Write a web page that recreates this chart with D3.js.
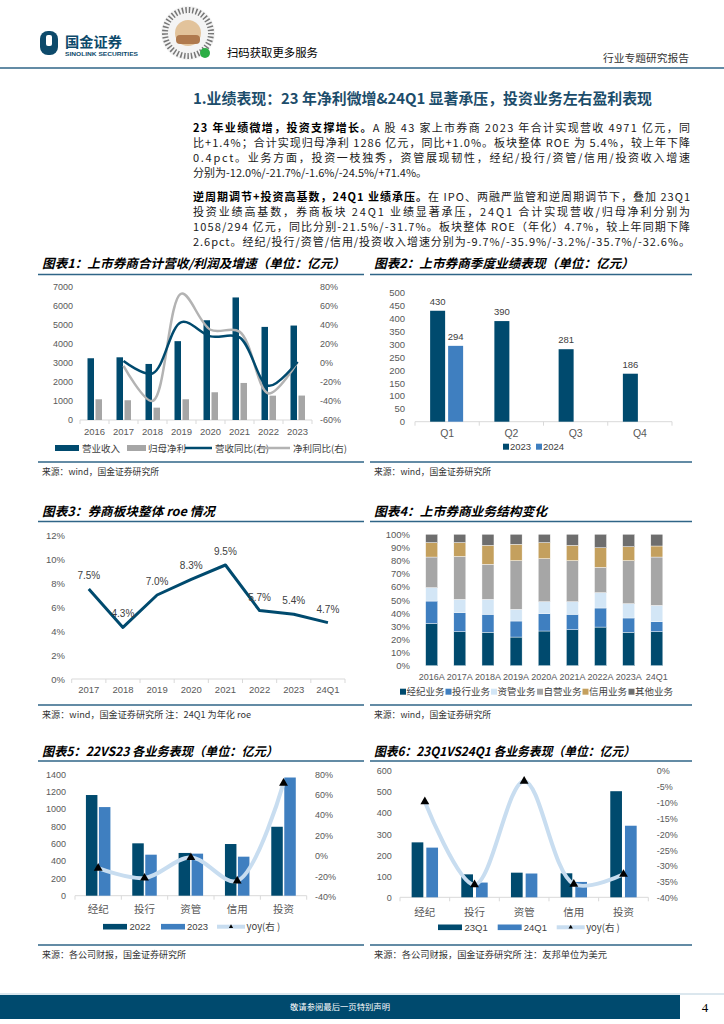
<!DOCTYPE html>
<html>
<head>
<meta charset="utf-8">
<script src="https://cdn.jsdelivr.net/npm/d3@7"></script>
<style>
body { margin: 0; background: #fff; }
</style>
</head>
<body>
<svg id="page" width="724" height="1024"></svg>
<script>
// ---- data ----
// chart 1: revenue / net profit and growth
const years1 = ["2016", "2017", "2018", "2019", "2020", "2021", "2022", "2023"];
const revenue1 = [3250, 3300, 2950, 4150, 5250, 6450, 4900, 4971];
const profit1 = [1090, 1040, 650, 1090, 1460, 1950, 1280, 1286];
const revYoy1 = [null, 2, -11, 43, 28, 27, -24, 1.4];
const profYoy1 = [null, -3, -40, 73, 35, 33, -32, 1.0];
const ticks1L = [0, 1000, 2000, 3000, 4000, 5000, 6000, 7000];
const ticks1R = [-60, -40, -20, 0, 20, 40, 60, 80];

// chart 2: quarterly net profit
const quarters2 = ["Q1", "Q2", "Q3", "Q4"];
const q2023 = [430, 390, 281, 186];
const q2024 = [294];
const ticks2 = [0, 50, 100, 150, 200, 250, 300, 350, 400, 450, 500];

// chart 3: ROE
const years3 = ["2017", "2018", "2019", "2020", "2021", "2022", "2023", "24Q1"];
const roe3 = [7.5, 4.3, 7.0, 8.3, 9.5, 5.7, 5.4, 4.7];
const ticks3 = [0, 2, 4, 6, 8, 10, 12];

// chart 4: revenue structure (%)
const years4 = ["2016A", "2017A", "2018A", "2019A", "2020A", "2021A", "2022A", "2023A", "24Q1"];
const seg4 = ["经纪业务", "投行业务", "资管业务", "自营业务", "信用业务", "其他业务"];
const brokerage4 = [32.2, 25.9, 25.4, 21.8, 26.4, 27.4, 29.4, 25.4, 25.9];
const ib4 = [17.0, 14.5, 13.7, 12.2, 13.2, 11.7, 14.5, 10.9, 7.6];
const am4 = [10.2, 10.1, 11.4, 8.9, 9.1, 9.6, 11.7, 10.9, 12.4];
const prop4 = [23.3, 32.7, 26.7, 37.1, 32.8, 31.3, 19.3, 32.8, 36.8];
const credit4 = [11.0, 10.5, 14.4, 12.4, 12.2, 11.6, 14.9, 10.6, 8.4];
const other4 = [6.3, 6.3, 8.4, 7.6, 6.3, 8.4, 10.2, 9.4, 8.9];
const ticks4 = [0, 10, 20, 30, 40, 50, 60, 70, 80, 90, 100];

// chart 5: 22 vs 23 by business
const biz = ["经纪", "投行", "资管", "信用", "投资"];
const v2022 = [1161, 604, 493, 596, 795];
const v2023 = [1022, 473, 485, 450, 1363];
const yoy5 = [-12.0, -21.7, -1.6, -24.5, 71.4];
const ticks5L = [0, 200, 400, 600, 800, 1000, 1200, 1400];
const ticks5R = [-40, -20, 0, 20, 40, 60, 80];

// chart 6: 23Q1 vs 24Q1 by business
const v23q1 = [261, 109, 117, 114, 504];
const v24q1 = [236, 70, 113, 73, 340];
const yoy6 = [-9.7, -35.9, -3.2, -35.7, -32.6];
const ticks6L = [0, 100, 200, 300, 400, 500, 600];
const ticks6R = [-40, -35, -30, -25, -20, -15, -10, -5, 0];

// ---- styles ----
const DARK = "#004a6e", BLUE = "#3f7fc0", GREY = "#a6a6a6", LIGHT = "#c8ddf0";
const PALE = "#d3e6f6", GOLD = "#c4a05e", DGREY = "#6e6e6e", AX = "#595959";
const RULE = "#2f6587";
const CJK = '"Noto Sans CJK SC", sans-serif';
const LAT = '"Liberation Sans", Arial, sans-serif';
const plain = d => String(d);
const pct = d => d + "%";

const svg = d3.select("#page");

function txt(x, y, s, o = {}) {
  const t = svg.append("text").attr("x", x).attr("y", y).text(s)
    .attr("font-size", o.size || 10)
    .attr("fill", o.fill || "#000")
    .attr("font-family", o.family || CJK);
  if (o.weight) t.attr("font-weight", o.weight);
  if (o.anchor) t.attr("text-anchor", o.anchor);
  if (o.italic) t.attr("font-style", "italic");
  if (o.len) t.attr("textLength", o.len).attr("lengthAdjust", "spacingAndGlyphs");
  return t;
}

function styleAxis(g, size, family) {
  g.select(".domain").remove();
  g.selectAll("text").attr("font-size", size || 9).attr("fill", AX)
    .attr("font-family", family || LAT);
}

function frame(x0, x1, yTitle, yRule, title, titleLen, yBottom, source, sourceLen) {
  txt(x0 + 4, yTitle, title, { size: 12.5, weight: "bold", italic: true, len: titleLen });
  svg.append("line").attr("x1", x0).attr("x2", x1).attr("y1", yRule).attr("y2", yRule)
    .attr("stroke", RULE).attr("stroke-width", 1.5);
  svg.append("line").attr("x1", x0).attr("x2", x1).attr("y1", yBottom).attr("y2", yBottom)
    .attr("stroke", RULE).attr("stroke-width", 1.5);
  txt(x0 + 4, yBottom + 13, source, { size: 9, fill: "#333", len: sourceLen });
}

function baseline(x, y, n) {
  const bw = (x.range()[1] - x.range()[0]) / n;
  svg.append("line").attr("x1", x.range()[0]).attr("x2", x.range()[1])
    .attr("y1", y).attr("y2", y).attr("stroke", "#d9d9d9");
  for (let i = 0; i <= n; i++) {
    svg.append("line").attr("x1", x.range()[0] + i * bw).attr("x2", x.range()[0] + i * bw)
      .attr("y1", y).attr("y2", y + 4).attr("stroke", "#d9d9d9");
  }
}

// ---- page header ----
svg.append("rect").attr("x", 40).attr("y", 31).attr("width", 18).attr("height", 24).attr("rx", 8).attr("fill", "#0d4a6b");
svg.append("rect").attr("x", 46).attr("y", 35).attr("width", 6).attr("height", 11).attr("rx", 2).attr("fill", "#fff");
txt(65, 47, "国金证券", { size: 14, weight: "bold", fill: "#0d4a6b", len: 57 });
txt(65, 56, "SINOLINK SECURITIES", { size: 5.5, weight: "bold", fill: "#0d4a6b", family: LAT, len: 73 });
svg.append("circle").attr("cx", 188).attr("cy", 33).attr("r", 27).attr("fill", "#f4f4f4");
svg.append("circle").attr("cx", 188).attr("cy", 33).attr("r", 23).attr("fill", "none")
  .attr("stroke", "#777").attr("stroke-width", 6).attr("stroke-dasharray", "1.5 2");
svg.append("circle").attr("cx", 188).attr("cy", 33).attr("r", 13).attr("fill", "#e2c39b");
svg.append("rect").attr("x", 176).attr("y", 35).attr("width", 24).attr("height", 9).attr("rx", 4).attr("fill", "#b07a4e");
svg.append("circle").attr("cx", 205).attr("cy", 53).attr("r", 5).attr("fill", "#2bae45");
txt(227, 57, "扫码获取更多服务", { size: 11.5, len: 91 });
txt(689, 62, "行业专题研究报告", { size: 10, fill: "#333", anchor: "end", len: 86 });
svg.append("line").attr("x1", 0).attr("x2", 724).attr("y1", 68).attr("y2", 68)
  .attr("stroke", RULE).attr("stroke-width", 1.5);

// ---- section title and text ----
txt(193, 104, "1.业绩表现：23 年净利微增&24Q1 显著承压，投资业务左右盈利表现",
  { size: 15, weight: "bold", fill: "#1c4d6b", len: 459 });

const paraLines = [
  { y: 132, b: "23 年业绩微增，投资支撑增长。", n: "A 股 43 家上市券商 2023 年合计实现营收 4971 亿元，同", j: true },
  { y: 147, b: "", n: "比+1.4%；合计实现归母净利 1286 亿元，同比+1.0%。板块整体 ROE 为 5.4%，较上年下降", j: true },
  { y: 162, b: "", n: "0.4pct。业务方面，投资一枝独秀，资管展现韧性，经纪/投行/资管/信用/投资收入增速", j: true },
  { y: 177, b: "", n: "分别为-12.0%/-21.7%/-1.6%/-24.5%/+71.4%。", j: false },
  { y: 201, b: "逆周期调节+投资高基数，24Q1 业绩承压。", n: "在 IPO、两融严监管和逆周期调节下，叠加 23Q1", j: true },
  { y: 216, b: "", n: "投资业绩高基数，券商板块 24Q1 业绩显著承压，24Q1 合计实现营收/归母净利分别为", j: true },
  { y: 231, b: "", n: "1058/294 亿元，同比分别-21.5%/-31.7%。板块整体 ROE（年化）4.7%，较上年同期下降", j: true },
  { y: 246, b: "", n: "2.6pct。经纪/投行/资管/信用/投资收入增速分别为-9.7%/-35.9%/-3.2%/-35.7%/-32.6%。", j: true }
];
paraLines.forEach(l => {
  const t = svg.append("text").attr("x", 193).attr("y", l.y)
    .attr("font-size", 11).attr("font-family", CJK).attr("fill", "#1a1a1a");
  if (l.b) t.append("tspan").attr("font-weight", "bold").attr("fill", "#000").text(l.b);
  t.append("tspan").text(l.n);
  if (l.j) t.attr("textLength", 497).attr("lengthAdjust", "spacing");
});

// ---- chart 1 ----
frame(38, 364, 268, 274.5, "图表1：上市券商合计营收/利润及增速（单位：亿元）", 303,
  462, "来源：wind，国金证券研究所", 117);
{
  const x = d3.scaleBand().domain(years1).range([80, 312]);
  const y = d3.scaleLinear().domain([0, 7000]).range([420, 287]);
  const yr = d3.scaleLinear().domain([-60, 80]).range([420, 287]);
  const bw = x.bandwidth();
  svg.append("g").attr("transform", "translate(80,0)")
    .call(d3.axisLeft(y).tickValues(ticks1L).tickSize(0).tickPadding(7).tickFormat(plain)).call(styleAxis, 9);
  svg.append("g").attr("transform", "translate(312,0)")
    .call(d3.axisRight(yr).tickValues(ticks1R).tickSize(0).tickPadding(8).tickFormat(pct)).call(styleAxis, 9);
  baseline(x, 420, years1.length);
  svg.append("g").attr("transform", "translate(0,420)")
    .call(d3.axisBottom(x).tickSize(0).tickPadding(8.5)).call(styleAxis, 9.5);
  svg.append("g").selectAll("rect").data(revenue1).join("rect")
    .attr("x", (d, i) => x(years1[i]) + bw / 2 - 7).attr("width", 6.5)
    .attr("y", d => y(d)).attr("height", d => y(0) - y(d)).attr("fill", DARK);
  svg.append("g").selectAll("rect").data(profit1).join("rect")
    .attr("x", (d, i) => x(years1[i]) + bw / 2 + 1).attr("width", 6.5)
    .attr("y", d => y(d)).attr("height", d => y(0) - y(d)).attr("fill", GREY);
  const line = d3.line().defined(d => d[1] != null)
    .x(d => x(d[0]) + bw / 2).y(d => yr(d[1])).curve(d3.curveCatmullRom);
  svg.append("path").attr("d", line(years1.map((c, i) => [c, profYoy1[i]])))
    .attr("fill", "none").attr("stroke", "#b3b3b3").attr("stroke-width", 2.5);
  svg.append("path").attr("d", line(years1.map((c, i) => [c, revYoy1[i]])))
    .attr("fill", "none").attr("stroke", DARK).attr("stroke-width", 2.5);
  // legend
  const ly = 448;
  svg.append("rect").attr("x", 55).attr("y", ly - 3).attr("width", 24).attr("height", 6).attr("fill", DARK);
  txt(82, ly + 3.5, "营业收入", { size: 9.5, fill: "#404040" });
  svg.append("rect").attr("x", 127).attr("y", ly - 3).attr("width", 19).attr("height", 6).attr("fill", GREY);
  txt(148, ly + 3.5, "归母净利", { size: 9.5, fill: "#404040" });
  svg.append("line").attr("x1", 185).attr("x2", 212).attr("y1", ly).attr("y2", ly).attr("stroke", DARK).attr("stroke-width", 2.5);
  txt(215, ly + 3.5, "营收同比(右)", { size: 9.5, fill: "#404040" });
  svg.append("line").attr("x1", 260).attr("x2", 290).attr("y1", ly).attr("y2", ly).attr("stroke", "#b3b3b3").attr("stroke-width", 2.5);
  txt(293, ly + 3.5, "净利同比(右)", { size: 9.5, fill: "#404040" });
}

// ---- chart 2 ----
frame(370, 692, 268, 274.5, "图表2：上市券商季度业绩表现（单位：亿元）", 260,
  462, "来源：wind，国金证券研究所", 117);
{
  const x = d3.scaleBand().domain(quarters2).range([415, 672]);
  const y = d3.scaleLinear().domain([0, 500]).range([421.7, 292.7]);
  const c = d => x(d) + x.bandwidth() / 2;
  svg.append("g").attr("transform", "translate(415,0)")
    .call(d3.axisLeft(y).tickValues(ticks2).tickSize(0).tickPadding(10).tickFormat(plain)).call(styleAxis, 9.5);
  baseline(x, 421.7, quarters2.length);
  svg.append("g").attr("transform", "translate(0,421.7)")
    .call(d3.axisBottom(x).tickSize(0).tickPadding(7.5)).call(styleAxis, 10.5);
  svg.append("g").selectAll("rect").data(q2023).join("rect")
    .attr("x", (d, i) => c(quarters2[i]) - 17).attr("width", 15)
    .attr("y", d => y(d)).attr("height", d => y(0) - y(d)).attr("fill", DARK);
  svg.append("g").selectAll("rect").data(q2024).join("rect")
    .attr("x", (d, i) => c(quarters2[i]) + 1).attr("width", 15)
    .attr("y", d => y(d)).attr("height", d => y(0) - y(d)).attr("fill", BLUE);
  q2023.forEach((d, i) => txt(c(quarters2[i]) - 9.5, y(d) - 6, d, { size: 9.5, fill: "#404040", family: LAT, anchor: "middle" }));
  q2024.forEach((d, i) => txt(c(quarters2[i]) + 8.5, y(d) - 6, d, { size: 9.5, fill: "#404040", family: LAT, anchor: "middle" }));
  const ly = 446.7;
  svg.append("rect").attr("x", 503).attr("y", ly - 3).attr("width", 6).attr("height", 6).attr("fill", DARK);
  txt(510, ly + 3.5, "2023", { size: 9.5, fill: "#404040", family: LAT });
  svg.append("rect").attr("x", 536).attr("y", ly - 3).attr("width", 6).attr("height", 6).attr("fill", BLUE);
  txt(543, ly + 3.5, "2024", { size: 9.5, fill: "#404040", family: LAT });
}

// ---- chart 3 ----
frame(38, 364, 516, 521.5, "图表3：券商板块整体 roe 情况", 173,
  705, "来源：wind，国金证券研究所   注：24Q1 为年化 roe", 209);
{
  const x = d3.scaleBand().domain(years3).range([71.7, 345]);
  const y = d3.scaleLinear().domain([0, 12]).range([679, 535]);
  const c = d => x(d) + x.bandwidth() / 2;
  svg.append("g").attr("transform", "translate(71.7,0)")
    .call(d3.axisLeft(y).tickValues(ticks3).tickSize(0).tickPadding(6.7).tickFormat(pct)).call(styleAxis, 9.5);
  baseline(x, 679, years3.length);
  svg.append("g").attr("transform", "translate(0,679)")
    .call(d3.axisBottom(x).tickSize(0).tickPadding(7.5)).call(styleAxis, 9.5);
  const line = d3.line().x((d, i) => c(years3[i])).y(d => y(d));
  svg.append("path").attr("d", line(roe3)).attr("fill", "none")
    .attr("stroke", DARK).attr("stroke-width", 3).attr("stroke-linejoin", "round");
  roe3.forEach((d, i) => txt(c(years3[i]), y(d) - 10, d.toFixed(1) + "%",
    { size: 10, fill: "#404040", family: LAT, anchor: "middle" }));
}

// ---- chart 4 ----
frame(370, 692, 516, 521.5, "图表4：上市券商业务结构变化", 173,
  705, "来源：wind，国金证券研究所", 117);
{
  const x = d3.scaleBand().domain(years4).range([417.6, 670.9]);
  const y = d3.scaleLinear().domain([0, 100]).range([665.7, 534.3]);
  const cols = [DARK, BLUE, PALE, GREY, GOLD, DGREY];
  const series = [brokerage4, ib4, am4, prop4, credit4, other4];
  const rows = years4.map((yr, i) => {
    const r = { year: yr };
    seg4.forEach((k, j) => r[k] = series[j][i]);
    return r;
  });
  const stacked = d3.stack().keys(seg4)(rows);
  svg.append("g").attr("transform", "translate(417.6,0)")
    .call(d3.axisLeft(y).tickValues(ticks4).tickSize(0).tickPadding(7.6).tickFormat(pct)).call(styleAxis, 9.5);
  svg.append("g").attr("transform", "translate(0,665.7)")
    .call(d3.axisBottom(x).tickSize(0).tickPadding(8)).call(styleAxis, 9);
  const bx = d => x(d) + x.bandwidth() / 2 - 6;
  stacked.forEach((s, j) => {
    svg.append("g").selectAll("rect").data(s).join("rect")
      .attr("x", d => bx(d.data.year)).attr("width", 12)
      .attr("y", d => y(d[1])).attr("height", d => y(d[0]) - y(d[1]))
      .attr("fill", cols[j]).attr("stroke", "#fff").attr("stroke-width", 0.4);
  });
  const lx = [400, 445.5, 491, 537, 582.5, 628.5];
  seg4.forEach((k, j) => {
    svg.append("rect").attr("x", lx[j]).attr("y", 688.7).attr("width", 6).attr("height", 6).attr("fill", cols[j]);
    txt(lx[j] + 6.5, 695.2, k, { size: 9.5, fill: "#404040" });
  });
}

// ---- chart 5 & 6 helper ----
function bizChart(o) {
  const x = d3.scaleBand().domain(biz).range(o.xr);
  const y = d3.scaleLinear().domain(o.yd).range([o.base, o.top]);
  const yr = d3.scaleLinear().domain(o.yrd).range([o.baseR, o.top]);
  const c = d => x(d) + x.bandwidth() / 2;
  svg.append("g").attr("transform", `translate(${o.xr[0]},0)`)
    .call(d3.axisLeft(y).tickValues(o.tl).tickSize(0).tickPadding(o.padL).tickFormat(plain)).call(styleAxis, 9);
  svg.append("g").attr("transform", `translate(${o.xr[1]},0)`)
    .call(d3.axisRight(yr).tickValues(o.tr).tickSize(0).tickPadding(8.4).tickFormat(pct)).call(styleAxis, 9);
  baseline(x, o.base, biz.length);
  svg.append("g").attr("transform", `translate(0,${o.base})`)
    .call(d3.axisBottom(x).tickSize(0).tickPadding(o.padX)).call(styleAxis, 10.5, CJK);
  svg.append("g").selectAll("rect").data(o.a).join("rect")
    .attr("x", (d, i) => c(biz[i]) - o.bw - o.gap / 2).attr("width", o.bw)
    .attr("y", d => y(d)).attr("height", d => y(0) - y(d)).attr("fill", DARK);
  svg.append("g").selectAll("rect").data(o.b).join("rect")
    .attr("x", (d, i) => c(biz[i]) + o.gap / 2).attr("width", o.bw)
    .attr("y", d => y(d)).attr("height", d => y(0) - y(d)).attr("fill", BLUE);
  const line = d3.line().x((d, i) => c(biz[i])).y(d => yr(d)).curve(d3.curveCatmullRom);
  svg.append("path").attr("d", line(o.yoy)).attr("fill", "none")
    .attr("stroke", LIGHT).attr("stroke-width", 4);
  svg.append("g").selectAll("path").data(o.yoy).join("path")
    .attr("d", d3.symbol(d3.symbolTriangle).size(34))
    .attr("transform", (d, i) => `translate(${c(biz[i])},${yr(d)})`).attr("fill", "#000");
  // legend
  const L = o.legend, ly = o.ly;
  svg.append("rect").attr("x", L[0]).attr("y", ly - 2.8).attr("width", 24).attr("height", 5.6).attr("fill", DARK);
  txt(L[0] + 26.5, ly + 3.5, o.names[0], { size: 9.5, fill: "#404040", family: LAT });
  svg.append("rect").attr("x", L[1]).attr("y", ly - 2.8).attr("width", 24).attr("height", 5.6).attr("fill", BLUE);
  txt(L[1] + 26, ly + 3.5, o.names[1], { size: 9.5, fill: "#404040", family: LAT });
  svg.append("line").attr("x1", L[2]).attr("x2", L[2] + 28).attr("y1", ly).attr("y2", ly)
    .attr("stroke", LIGHT).attr("stroke-width", 4);
  svg.append("path").attr("d", d3.symbol(d3.symbolTriangle).size(8)())
    .attr("transform", `translate(${L[2] + 14},${ly})`).attr("fill", "#000");
  txt(L[2] + 29.5, ly + 3.5, "yoy(右 )", { size: 9.5, fill: "#404040" });
}

frame(38, 364, 756, 761, "图表5：22VS23 各业务表现（单位：亿元）", 236,
  945, "来源：各公司财报，国金证券研究所", 144);
bizChart({
  xr: [75, 306.7], yd: [0, 1400], yrd: [-40, 80], base: 895.7, baseR: 896.7, top: 774.3,
  tl: ticks5L, tr: ticks5R, padL: 9, padX: 9.5, a: v2022, b: v2023, yoy: yoy5,
  bw: 11.5, gap: 1.5, legend: [103, 161, 217], ly: 926.7, names: ["2022", "2023"]
});

frame(370, 692, 756, 761, "图表6：23Q1VS24Q1 各业务表现（单位：亿元）", 261,
  945, "来源：各公司财报，国金证券研究所 注：友邦单位为美元", 233);
bizChart({
  xr: [400, 648.3], yd: [0, 600], yrd: [-40, 0], base: 897.3, baseR: 897.7, top: 771,
  tl: ticks6L, tr: ticks6R, padL: 8.3, padX: 11.5, a: v23q1, b: v24q1, yoy: yoy6,
  bw: 11.7, gap: 3, legend: [438, 497.7, 556.7], ly: 927.3, names: ["23Q1", "24Q1"]
});

// ---- page footer ----
svg.append("line").attr("x1", 0).attr("x2", 724).attr("y1", 994).attr("y2", 994)
  .attr("stroke", "#b8cfdd").attr("stroke-width", 1);
svg.append("rect").attr("x", 0).attr("y", 995).attr("width", 680).attr("height", 24).attr("fill", "#004a6e");
txt(340, 1010, "敬请参阅最后一页特别声明", { size: 8, fill: "#fff", anchor: "middle", len: 100 });
txt(705, 1012, "4", { size: 13, fill: "#000", family: '"Liberation Serif", serif', anchor: "middle" });
</script>
</body>
</html>
